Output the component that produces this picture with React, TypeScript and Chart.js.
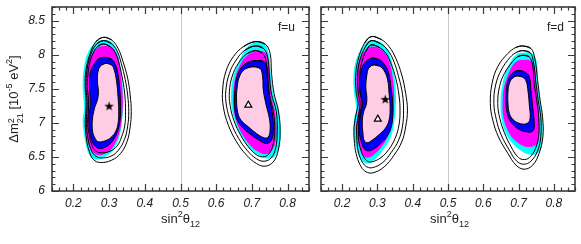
import React, { useEffect, useRef } from "react";
import { Chart, registerables } from "chart.js";

Chart.register(...registerables);

type Pt = [number, number];

const FONT = "'Liberation Sans', Arial, Helvetica, sans-serif";
Chart.defaults.font.family = FONT;

// ---- axes ----
const X_MIN = 0.14;
const X_MAX = 0.86;
const Y_MIN = 6;
const Y_MAX = 8.7;
const xTickValues = [0.2, 0.3, 0.4, 0.5, 0.6, 0.7, 0.8];
const xTickLabels = ["0.2", "0.3", "0.4", "0.5", "0.6", "0.7", "0.8"];
const yTickValues = [6, 6.5, 7, 7.5, 8, 8.5];
const yTickLabels = ["6", "6.5", "7", "7.5", "8", "8.5"];
const X_MINOR_STEP = 0.02;
const Y_MINOR_STEP = 0.1;
const DIVIDER_X = 0.5;

// ---- panel f=u, left region ----
const uL_line1: Pt[] = [[0.284,8.255],[0.307,8.216],[0.325,8.094],[0.339,7.898],[0.352,7.653],[0.359,7.408],[0.362,7.163],[0.359,6.942],[0.350,6.722],[0.332,6.550],[0.307,6.452],[0.275,6.418],[0.256,6.462],[0.245,6.575],[0.237,6.746],[0.233,6.991],[0.235,7.187],[0.235,7.359],[0.233,7.530],[0.235,7.775],[0.247,8.020],[0.263,8.192]];
const uL_line2: Pt[] = [[0.284,8.206],[0.305,8.167],[0.322,8.059],[0.334,7.873],[0.345,7.638],[0.352,7.408],[0.355,7.163],[0.352,6.952],[0.343,6.756],[0.326,6.599],[0.305,6.511],[0.276,6.486],[0.259,6.526],[0.248,6.624],[0.241,6.771],[0.236,6.991],[0.238,7.187],[0.238,7.359],[0.235,7.530],[0.238,7.775],[0.248,7.996],[0.265,8.157]];
const uL_line3: Pt[] = [[0.284,8.157],[0.303,8.118],[0.318,8.020],[0.329,7.849],[0.338,7.628],[0.344,7.408],[0.346,7.163],[0.344,6.967],[0.335,6.795],[0.322,6.658],[0.303,6.584],[0.279,6.560],[0.262,6.589],[0.252,6.673],[0.245,6.805],[0.240,6.991],[0.242,7.187],[0.242,7.359],[0.239,7.530],[0.242,7.765],[0.251,7.971],[0.267,8.118]];
const uL_cyan: Pt[] = [[0.282,8.216],[0.303,8.201],[0.318,8.118],[0.327,7.971],[0.334,7.726],[0.339,7.481],[0.340,7.236],[0.335,6.991],[0.329,6.795],[0.314,6.624],[0.296,6.526],[0.270,6.462],[0.251,6.491],[0.239,6.599],[0.231,6.795],[0.226,7.040],[0.230,7.212],[0.228,7.383],[0.226,7.579],[0.230,7.824],[0.242,8.045],[0.261,8.167]];
const uL_magenta: Pt[] = [[0.284,8.128],[0.307,8.108],[0.320,8.020],[0.329,7.873],[0.334,7.653],[0.338,7.432],[0.338,7.212],[0.334,6.991],[0.327,6.820],[0.314,6.673],[0.298,6.575],[0.275,6.526],[0.256,6.560],[0.245,6.648],[0.237,6.795],[0.233,7.016],[0.237,7.212],[0.237,7.359],[0.235,7.530],[0.237,7.775],[0.248,7.971],[0.265,8.094]];
const uL_blue: Pt[] = [[0.289,7.961],[0.307,7.932],[0.318,7.849],[0.325,7.702],[0.330,7.481],[0.332,7.236],[0.330,7.016],[0.323,6.869],[0.311,6.746],[0.294,6.658],[0.275,6.624],[0.261,6.658],[0.251,6.746],[0.245,6.893],[0.243,7.089],[0.247,7.236],[0.247,7.383],[0.245,7.555],[0.248,7.751],[0.261,7.883],[0.273,7.947]];
const uL_pink: Pt[] = [[0.292,7.873],[0.307,7.849],[0.315,7.765],[0.321,7.604],[0.325,7.383],[0.327,7.163],[0.325,6.991],[0.318,6.869],[0.305,6.785],[0.289,6.736],[0.270,6.722],[0.261,6.771],[0.254,6.869],[0.253,7.040],[0.259,7.212],[0.267,7.334],[0.270,7.457],[0.267,7.628],[0.270,7.775],[0.279,7.849]];

// ---- panel f=u, right region ----
const uR_line1: Pt[] = [[0.709,8.192],[0.737,8.157],[0.751,8.020],[0.755,7.726],[0.762,7.432],[0.774,7.187],[0.779,6.893],[0.774,6.599],[0.760,6.428],[0.737,6.364],[0.713,6.403],[0.685,6.526],[0.657,6.722],[0.634,6.966],[0.620,7.236],[0.618,7.481],[0.627,7.751],[0.648,7.971],[0.676,8.118]];
const uR_line2: Pt[] = [[0.709,8.128],[0.732,8.094],[0.744,7.971],[0.749,7.702],[0.755,7.422],[0.768,7.177],[0.771,6.893],[0.767,6.638],[0.754,6.486],[0.734,6.437],[0.713,6.472],[0.688,6.589],[0.663,6.771],[0.642,7.001],[0.629,7.246],[0.627,7.471],[0.637,7.726],[0.656,7.922],[0.681,8.069]];
const uR_line3: Pt[] = [[0.709,8.059],[0.728,8.030],[0.739,7.922],[0.743,7.677],[0.749,7.408],[0.760,7.167],[0.764,6.893],[0.759,6.673],[0.747,6.540],[0.730,6.501],[0.712,6.535],[0.690,6.648],[0.669,6.815],[0.650,7.030],[0.639,7.256],[0.637,7.461],[0.645,7.687],[0.662,7.873],[0.685,8.010]];
const uR_cyan: Pt[] = [[0.704,8.177],[0.732,8.167],[0.746,8.045],[0.753,7.726],[0.760,7.432],[0.774,7.187],[0.781,6.893],[0.777,6.648],[0.765,6.511],[0.746,6.477],[0.723,6.511],[0.695,6.624],[0.671,6.795],[0.653,7.016],[0.643,7.236],[0.642,7.457],[0.648,7.687],[0.662,7.873],[0.681,8.069]];
const uR_magenta: Pt[] = [[0.709,8.045],[0.737,8.030],[0.746,7.898],[0.751,7.628],[0.755,7.383],[0.765,7.163],[0.769,6.893],[0.765,6.697],[0.753,6.575],[0.737,6.540],[0.718,6.575],[0.695,6.673],[0.674,6.820],[0.657,7.016],[0.648,7.236],[0.648,7.457],[0.654,7.677],[0.667,7.849],[0.685,7.981]];
const uR_blue: Pt[] = [[0.709,7.912],[0.734,7.898],[0.743,7.800],[0.746,7.579],[0.751,7.334],[0.758,7.114],[0.760,6.893],[0.755,6.746],[0.741,6.697],[0.723,6.736],[0.699,6.820],[0.676,6.918],[0.659,7.040],[0.652,7.212],[0.652,7.432],[0.657,7.653],[0.669,7.800],[0.687,7.883]];
const uR_pink: Pt[] = [[0.704,7.824],[0.723,7.800],[0.730,7.677],[0.732,7.481],[0.740,7.261],[0.749,7.065],[0.751,6.893],[0.745,6.785],[0.732,6.785],[0.713,6.844],[0.690,6.942],[0.671,7.030],[0.661,7.138],[0.657,7.334],[0.659,7.530],[0.667,7.702],[0.684,7.800]];

// ---- panel f=d, left region ----
const dL_line1: Pt[] = [[0.282,8.265],[0.310,8.226],[0.333,8.118],[0.352,7.947],[0.369,7.702],[0.380,7.432],[0.385,7.187],[0.380,6.942],[0.369,6.722],[0.347,6.526],[0.319,6.354],[0.287,6.266],[0.268,6.281],[0.254,6.354],[0.242,6.501],[0.235,6.697],[0.234,6.942],[0.240,7.138],[0.245,7.285],[0.240,7.432],[0.238,7.677],[0.245,7.922],[0.263,8.167]];
const dL_line2: Pt[] = [[0.282,8.206],[0.307,8.167],[0.329,8.069],[0.346,7.907],[0.360,7.677],[0.371,7.422],[0.374,7.187],[0.371,6.952],[0.360,6.746],[0.339,6.565],[0.315,6.418],[0.287,6.344],[0.270,6.354],[0.258,6.418],[0.247,6.550],[0.242,6.722],[0.241,6.942],[0.247,7.128],[0.251,7.285],[0.246,7.432],[0.244,7.667],[0.249,7.898],[0.266,8.118]];
const dL_line3: Pt[] = [[0.282,8.143],[0.305,8.108],[0.324,8.020],[0.339,7.863],[0.352,7.653],[0.361,7.408],[0.364,7.187],[0.361,6.967],[0.350,6.771],[0.332,6.609],[0.310,6.491],[0.285,6.428],[0.272,6.437],[0.261,6.501],[0.253,6.599],[0.247,6.746],[0.247,6.942],[0.252,7.114],[0.257,7.275],[0.251,7.432],[0.249,7.653],[0.255,7.873],[0.268,8.059]];
const dL_cyan: Pt[] = [[0.277,8.206],[0.305,8.192],[0.326,8.094],[0.338,7.947],[0.347,7.726],[0.352,7.481],[0.352,7.236],[0.347,6.991],[0.338,6.795],[0.319,6.624],[0.296,6.477],[0.273,6.403],[0.259,6.428],[0.247,6.526],[0.238,6.673],[0.232,6.869],[0.234,7.065],[0.240,7.212],[0.236,7.359],[0.232,7.579],[0.235,7.824],[0.247,8.020],[0.263,8.143]];
const dL_magenta: Pt[] = [[0.282,8.118],[0.305,8.094],[0.322,8.020],[0.335,7.873],[0.343,7.677],[0.347,7.457],[0.347,7.226],[0.343,7.016],[0.333,6.844],[0.317,6.687],[0.296,6.560],[0.275,6.491],[0.262,6.511],[0.253,6.589],[0.245,6.722],[0.240,6.893],[0.242,7.065],[0.247,7.212],[0.244,7.359],[0.240,7.555],[0.242,7.775],[0.252,7.961],[0.266,8.069]];
const dL_blue: Pt[] = [[0.282,7.947],[0.303,7.932],[0.319,7.863],[0.332,7.726],[0.338,7.530],[0.343,7.310],[0.343,7.089],[0.338,6.918],[0.326,6.795],[0.307,6.687],[0.287,6.609],[0.273,6.589],[0.262,6.624],[0.255,6.707],[0.249,6.844],[0.247,7.016],[0.251,7.163],[0.257,7.285],[0.252,7.408],[0.249,7.579],[0.253,7.751],[0.263,7.873]];
const dL_pink: Pt[] = [[0.287,7.849],[0.305,7.834],[0.319,7.765],[0.329,7.628],[0.333,7.432],[0.336,7.226],[0.333,7.040],[0.322,6.918],[0.303,6.820],[0.285,6.746],[0.270,6.707],[0.262,6.746],[0.259,6.844],[0.257,7.016],[0.261,7.163],[0.268,7.261],[0.270,7.359],[0.267,7.530],[0.270,7.702],[0.275,7.800]];

// ---- panel f=d, right region ----
const dR_line1: Pt[] = [[0.712,8.128],[0.735,8.093],[0.746,7.946],[0.754,7.628],[0.761,7.334],[0.768,7.089],[0.769,6.795],[0.758,6.550],[0.740,6.379],[0.716,6.320],[0.693,6.379],[0.670,6.550],[0.643,6.795],[0.627,7.040],[0.620,7.285],[0.625,7.579],[0.641,7.824],[0.670,8.020],[0.693,8.108]];
const dR_line2: Pt[] = [[0.712,8.059],[0.733,8.030],[0.742,7.898],[0.749,7.604],[0.756,7.324],[0.763,7.079],[0.763,6.805],[0.754,6.589],[0.735,6.437],[0.714,6.393],[0.694,6.442],[0.674,6.599],[0.651,6.820],[0.637,7.050],[0.630,7.285],[0.635,7.555],[0.651,7.775],[0.676,7.961],[0.696,8.040]];
const dR_line3: Pt[] = [[0.712,7.991],[0.730,7.971],[0.740,7.849],[0.744,7.579],[0.752,7.310],[0.757,7.079],[0.757,6.820],[0.748,6.624],[0.731,6.491],[0.712,6.462],[0.696,6.511],[0.679,6.648],[0.660,6.854],[0.647,7.064],[0.641,7.285],[0.646,7.530],[0.660,7.726],[0.683,7.898],[0.698,7.971]];
const dR_cyan: Pt[] = [[0.712,8.030],[0.740,8.010],[0.752,7.873],[0.755,7.579],[0.761,7.310],[0.767,7.079],[0.768,6.805],[0.763,6.624],[0.749,6.540],[0.726,6.540],[0.702,6.609],[0.679,6.722],[0.660,6.893],[0.651,7.089],[0.649,7.310],[0.653,7.530],[0.662,7.726],[0.679,7.912],[0.696,8.010]];
const dR_magenta: Pt[] = [[0.707,7.922],[0.735,7.912],[0.746,7.800],[0.750,7.555],[0.755,7.310],[0.759,7.079],[0.759,6.844],[0.754,6.697],[0.735,6.648],[0.716,6.658],[0.698,6.707],[0.679,6.805],[0.665,6.942],[0.656,7.114],[0.655,7.310],[0.658,7.506],[0.668,7.677],[0.682,7.834],[0.696,7.907]];
const dR_blue: Pt[] = [[0.696,7.765],[0.716,7.751],[0.730,7.677],[0.735,7.481],[0.740,7.236],[0.744,7.040],[0.744,6.918],[0.737,6.869],[0.721,6.869],[0.702,6.903],[0.686,6.967],[0.674,7.050],[0.666,7.187],[0.664,7.359],[0.666,7.530],[0.674,7.667],[0.684,7.736]];
const dR_pink: Pt[] = [[0.693,7.687],[0.709,7.677],[0.721,7.618],[0.727,7.457],[0.731,7.236],[0.733,7.079],[0.727,7.001],[0.714,6.981],[0.698,7.001],[0.684,7.050],[0.674,7.138],[0.670,7.285],[0.670,7.457],[0.674,7.579],[0.682,7.652]];

// ---- best-fit markers ----
const uStar: Pt = [0.300, 7.245];
const uTriangle: Pt = [0.690, 7.26];
const dStar: Pt = [0.322, 7.345];
const dTriangle: Pt = [0.301, 7.055];

const COLORS = {
  cyan: "#00ffff",
  magenta: "#ff00ff",
  blue: "#0000ff",
  pink: "#ffcce6",
  line: "#000000",
  frame: "#3a3a3a",
  divider: "#c8c8c8",
  text: "#222222",
};

type Region = { fills: [Pt[], string, boolean][]; lines: Pt[][] };

const uRegions: Region[] = [
  { fills: [[uL_cyan, COLORS.cyan, false], [uL_magenta, COLORS.magenta, false], [uL_blue, COLORS.blue, true], [uL_pink, COLORS.pink, true]], lines: [uL_line1, uL_line2, uL_line3] },
  { fills: [[uR_cyan, COLORS.cyan, false], [uR_magenta, COLORS.magenta, false], [uR_blue, COLORS.blue, true], [uR_pink, COLORS.pink, true]], lines: [uR_line1, uR_line2, uR_line3] },
];
const dRegions: Region[] = [
  { fills: [[dL_cyan, COLORS.cyan, false], [dL_magenta, COLORS.magenta, false], [dL_blue, COLORS.blue, true], [dL_pink, COLORS.pink, true]], lines: [dL_line1, dL_line2, dL_line3] },
  { fills: [[dR_cyan, COLORS.cyan, false], [dR_magenta, COLORS.magenta, false], [dR_blue, COLORS.blue, true], [dR_pink, COLORS.pink, true]], lines: [dR_line1, dR_line2, dR_line3] },
];

function closedLoop(pts: Pt[]) {
  const n = pts.length;
  const seq = [pts[n - 1], ...pts, pts[0], pts[1]];
  return seq.map(([x, y]) => ({ x, y }));
}

function makeStarImage(): HTMLCanvasElement {
  const c = document.createElement("canvas");
  c.width = 11;
  c.height = 11;
  const ctx = c.getContext("2d")!;
  ctx.fillStyle = "#000";
  ctx.beginPath();
  const cx = 5.5, cy = 5.8, ro = 5.0, ri = 2.0;
  for (let i = 0; i < 10; i++) {
    const r = i % 2 === 0 ? ro : ri;
    const a = -Math.PI / 2 + (i * Math.PI) / 5;
    const px = cx + r * Math.cos(a);
    const py = cy + r * Math.sin(a);
    if (i === 0) ctx.moveTo(px, py);
    else ctx.lineTo(px, py);
  }
  ctx.closePath();
  ctx.fill();
  return c;
}

function buildDatasets(regions: Region[], star: Pt, tri: Pt, starImg: HTMLCanvasElement) {
  const ds: any[] = [];
  regions.forEach((reg) => {
    reg.fills.forEach(([pts, color, border], i) => {
      ds.push({
        data: closedLoop(pts),
        showLine: true,
        fill: "shape",
        backgroundColor: color,
        borderColor: border ? COLORS.line : color,
        borderWidth: border ? 1 : 0,
        pointRadius: 0,
        tension: 0.4,
        order: 20 - i,
      });
    });
    reg.lines.forEach((pts) => {
      ds.push({
        data: closedLoop(pts),
        showLine: true,
        fill: false,
        borderColor: COLORS.line,
        borderWidth: 1,
        pointRadius: 0,
        tension: 0.4,
        order: 5,
      });
    });
  });
  ds.push({
    data: [{ x: star[0], y: star[1] }],
    showLine: false,
    pointStyle: starImg,
    pointRadius: 5,
    order: 0,
  });
  ds.push({
    data: [{ x: tri[0], y: tri[1] }],
    showLine: false,
    pointStyle: "triangle",
    pointRadius: 4,
    backgroundColor: "#ffffff",
    borderColor: "#000000",
    borderWidth: 1.2,
    order: 0,
  });
  return ds;
}

const framePlugin = {
  id: "framePlugin",
  beforeDatasetsDraw(chart: any) {
    const { ctx, chartArea } = chart;
    const xs = chart.scales.x;
    const px = Math.round(xs.getPixelForValue(DIVIDER_X)) + 0.5;
    ctx.save();
    ctx.strokeStyle = COLORS.divider;
    ctx.lineWidth = 1;
    ctx.beginPath();
    ctx.moveTo(px, chartArea.top);
    ctx.lineTo(px, chartArea.bottom);
    ctx.stroke();
    ctx.restore();
  },
  afterDatasetsDraw(chart: any) {
    const { ctx, chartArea } = chart;
    const xs = chart.scales.x;
    const ys = chart.scales.y;
    const { left, right, top, bottom } = chartArea;
    ctx.save();
    ctx.strokeStyle = COLORS.frame;
    ctx.lineWidth = 1.2;
    ctx.beginPath();
    const isMajor = (v: number, majors: number[]) => majors.some((m) => Math.abs(m - v) < 1e-6);
    const xStart = Math.ceil(X_MIN / X_MINOR_STEP - 1e-6);
    const xEnd = Math.floor(X_MAX / X_MINOR_STEP + 1e-6);
    for (let i = xStart; i <= xEnd; i++) {
      const v = i * X_MINOR_STEP;
      const len = isMajor(v, xTickValues) ? 7 : 3.5;
      const p = Math.round(xs.getPixelForValue(v)) + 0.5;
      ctx.moveTo(p, bottom);
      ctx.lineTo(p, bottom - len);
      ctx.moveTo(p, top);
      ctx.lineTo(p, top + len);
    }
    const yStart = Math.ceil(Y_MIN / Y_MINOR_STEP - 1e-6);
    const yEnd = Math.floor(Y_MAX / Y_MINOR_STEP + 1e-6);
    for (let i = yStart; i <= yEnd; i++) {
      const v = i * Y_MINOR_STEP;
      const len = isMajor(v, yTickValues) ? 7 : 3.5;
      const p = Math.round(ys.getPixelForValue(v)) + 0.5;
      ctx.moveTo(left, p);
      ctx.lineTo(left + len, p);
      ctx.moveTo(right, p);
      ctx.lineTo(right - len, p);
    }
    ctx.stroke();
    ctx.lineWidth = 1.6;
    ctx.strokeRect(left, top, right - left, bottom - top);
    ctx.restore();
  },
};

function labelFor(v: number, values: number[], labels: string[]) {
  const i = values.findIndex((m) => Math.abs(m - v) < 1e-6);
  return i >= 0 ? labels[i] : "";
}

function makeConfig(isLeft: boolean, regions: Region[], star: Pt, tri: Pt, starImg: HTMLCanvasElement): any {
  const tickFont = { family: FONT, size: 12, style: "italic" as const };
  return {
    type: "scatter",
    data: { datasets: buildDatasets(regions, star, tri, starImg) },
    options: {
      responsive: false,
      maintainAspectRatio: false,
      animation: false,
      devicePixelRatio: 1,
      events: [],
      layout: {
        padding: isLeft ? { left: 0, right: 6, top: 7, bottom: 0 } : { left: 6, right: 3, top: 7, bottom: 0 },
      },
      plugins: { legend: { display: false }, tooltip: { enabled: false } },
      scales: {
        x: {
          type: "linear",
          min: X_MIN,
          max: X_MAX,
          grid: { display: false, drawTicks: false },
          border: { display: false },
          afterBuildTicks: (s: any) => {
            s.ticks = xTickValues.map((v) => ({ value: v }));
          },
          afterFit: (s: any) => {
            s.height = 53;
            s.paddingLeft = 0;
            s.paddingRight = 0;
          },
          ticks: {
            font: tickFont,
            color: COLORS.text,
            padding: 5,
            maxRotation: 0,
            autoSkip: false,
            callback: (v: number) => labelFor(v, xTickValues, xTickLabels),
          },
        },
        y: {
          type: "linear",
          min: Y_MIN,
          max: Y_MAX,
          display: isLeft,
          grid: { display: false, drawTicks: false },
          border: { display: false },
          afterBuildTicks: (s: any) => {
            s.ticks = yTickValues.map((v) => ({ value: v }));
          },
          afterFit: (s: any) => {
            s.width = isLeft ? 52 : 0;
            s.paddingTop = 0;
            s.paddingBottom = 0;
          },
          ticks: {
            font: tickFont,
            color: COLORS.text,
            padding: 7,
            autoSkip: false,
            callback: (v: number) => labelFor(v, yTickValues, yTickLabels),
          },
        },
      },
    },
    plugins: [framePlugin],
  };
}

const supStyle: React.CSSProperties = { fontSize: 9, verticalAlign: "baseline", position: "relative", top: -6 };
const subStyle: React.CSSProperties = { fontSize: 9, verticalAlign: "baseline", position: "relative", top: 4 };

function XTitle({ center }: { center: number }) {
  return (
    <div
      style={{
        position: "absolute",
        left: center - 60,
        top: 211,
        width: 120,
        textAlign: "center",
        fontSize: 13,
        lineHeight: "16px",
        color: COLORS.text,
        fontFamily: FONT,
        whiteSpace: "nowrap",
      }}
    >
      sin<span style={supStyle}>2</span>θ<span style={subStyle}>12</span>
    </div>
  );
}

export default function App() {
  const leftRef = useRef<HTMLCanvasElement>(null);
  const rightRef = useRef<HTMLCanvasElement>(null);

  useEffect(() => {
    const starImg = makeStarImage();
    const c1 = new Chart(leftRef.current!, makeConfig(true, uRegions, uStar, uTriangle, starImg));
    const c2 = new Chart(rightRef.current!, makeConfig(false, dRegions, dStar, dTriangle, starImg));
    return () => {
      c1.destroy();
      c2.destroy();
    };
  }, []);

  return (
    <div
      style={{
        position: "absolute",
        left: 0,
        top: 0,
        width: 581,
        height: 244,
        background: "#ffffff",
        overflow: "hidden",
        fontFamily: FONT,
      }}
    >
      <canvas
        ref={leftRef}
        width={315}
        height={244}
        style={{ position: "absolute", left: 0, top: 0, width: 315, height: 244 }}
      />
      <canvas
        ref={rightRef}
        width={266}
        height={244}
        style={{ position: "absolute", left: 315, top: 0, width: 266, height: 244 }}
      />
      <XTitle center={180.5} />
      <XTitle center={449.5} />
      <div
        style={{
          position: "absolute",
          left: 14 - 80,
          top: 99 - 10,
          width: 160,
          height: 20,
          transform: "rotate(-90deg)",
          textAlign: "center",
          fontSize: 13,
          lineHeight: "20px",
          color: COLORS.text,
          fontFamily: FONT,
          whiteSpace: "nowrap",
        }}
      >
        Δm
        <span
          style={{
            display: "inline-block",
            verticalAlign: "middle",
            fontSize: 9,
            lineHeight: "9px",
            textAlign: "left",
            position: "relative",
            top: 1,
          }}
        >
          <span style={{ display: "block" }}>2</span>
          <span style={{ display: "block" }}>21</span>
        </span>{" "}
        [10<span style={supStyle}>-5</span> eV<span style={supStyle}>2</span>]
      </div>
      <div style={{ position: "absolute", left: 278, top: 20, fontSize: 12, lineHeight: "14px", color: COLORS.text, fontFamily: FONT }}>
        f=u
      </div>
      <div style={{ position: "absolute", left: 547, top: 20, fontSize: 12, lineHeight: "14px", color: COLORS.text, fontFamily: FONT }}>
        f=d
      </div>
    </div>
  );
}
